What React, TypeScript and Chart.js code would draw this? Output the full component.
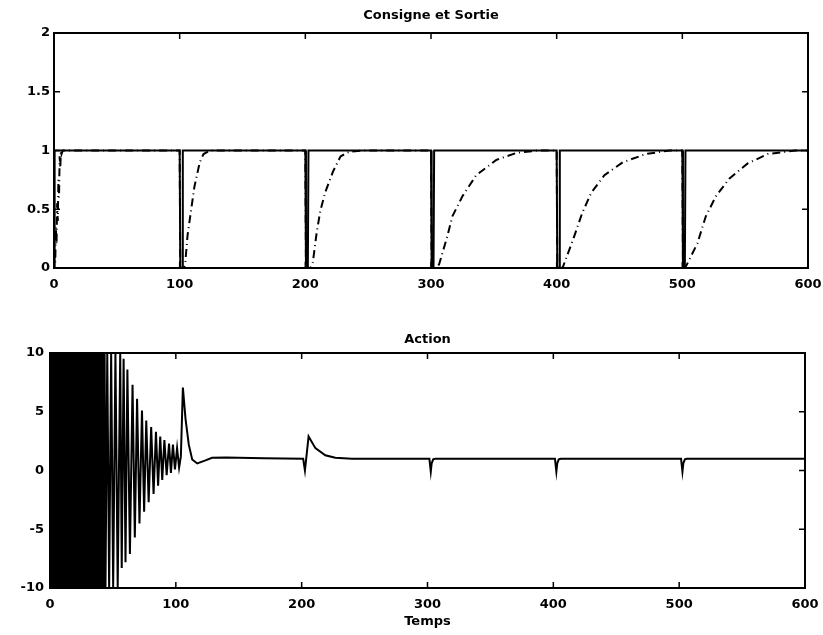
import React, { useEffect, useRef } from "react";
import { Chart, registerables } from "chart.js";

Chart.register(...registerables);

// ---- text ----
const topTitle = "Consigne et Sortie";
const bottomTitle = "Action";
const xAxisTitle = "Temps";

// ---- tick labels ----
const xTicks = [0, 100, 200, 300, 400, 500, 600];
const topYTicks = [0, 0.5, 1, 1.5, 2];
const bottomYTicks = [-10, -5, 0, 5, 10];

// ---- Consigne (setpoint, solid) ----
const setpointT = [0, 0.5, 100, 100.5, 102, 102.5, 200, 200.5, 202, 202.5, 300, 300.5, 302, 302.5, 400, 400.5, 402, 402.5, 500, 500.5, 502, 502.5, 600];
const setpointV = [0, 1, 1, 0, 0, 1, 1, 0, 0, 1, 1, 0, 0, 1, 1, 0, 0, 1, 1, 0, 0, 1, 1];

// ---- Sortie (output, dashed) ----
const outputT = [0, 0.5, 1, 1.5, 2, 2.5, 3, 3.5, 4, 4.5, 5, 5.5, 6, 7, 100, 100.5, 103.5, 104.5, 106.3, 111.7, 116, 119, 124, 200, 200.5, 204, 206, 209, 212, 216, 222, 228, 235, 245, 300, 300.5, 304, 306.4, 313, 317, 325, 336, 352, 368, 385, 400, 400.5, 404, 405, 413, 420.4, 427.5, 438, 452.6, 471, 490, 500, 500.5, 502, 502.7, 512, 518.7, 526.7, 537.3, 552, 568, 590, 600];
const outputV = [0, 0.15, 0.05, 0.35, 0.2, 0.55, 0.4, 0.75, 0.6, 0.95, 0.85, 1, 0.97, 1, 1, 0, 0, 0.05, 0.28, 0.69, 0.9, 0.97, 1, 1, 0, 0, 0.05, 0.3, 0.49, 0.65, 0.82, 0.95, 0.99, 1, 1, 0, 0, 0.03, 0.27, 0.44, 0.61, 0.79, 0.92, 0.98, 1, 1, 0, 0, 0.01, 0.24, 0.47, 0.64, 0.79, 0.9, 0.97, 1, 1, 0, 0, 0.01, 0.21, 0.44, 0.61, 0.76, 0.89, 0.97, 1, 1];

// ---- Action (control signal) ----
const actionT = [
  0.0, 0.7, 1.4, 2.1, 2.8, 3.5, 4.2, 4.9, 5.6, 6.3, 7.0, 7.7, 8.4, 9.1, 9.8, 10.5,
  11.2, 11.9, 12.6, 13.3, 14.0, 14.7, 15.4, 16.1, 16.8, 17.5, 18.2, 18.9, 19.6, 20.3, 21.0, 21.7,
  22.4, 23.1, 23.8, 24.5, 25.2, 25.9, 26.6, 27.3, 28.0, 28.7, 29.4, 30.1, 30.8, 31.5, 32.2, 32.9,
  33.6, 34.3, 35.0, 35.7, 36.4, 37.1, 37.8, 38.5, 39.2, 39.9, 40.6, 41.3, 42.0, 42.7, 43.4, 44.1,
  45.5, 47.0, 48.6, 50.2, 52.0, 53.8, 55.8, 57.0, 58.5, 60.0, 61.5, 63.5, 65.6, 67.4, 69.2, 71.1, 73.1, 74.8, 76.5, 78.4,
  80.4, 82.3, 84.2, 85.9, 87.6, 89.2, 90.9, 92.7, 94.6, 96.1, 97.7, 99.3, 101.0, 102.6, 104.0,
  105.6, 107.7, 110.3, 113.0, 117.0, 123.6, 128.8, 140.0, 170.0,
  201.2, 202.6, 205.5, 210.9, 218.8, 226.7, 240.0,
  301.5, 302.6, 303.3, 304.5, 306.0,
  401.3, 402.4, 403.1, 404.3, 406.0,
  501.5, 502.6, 503.3, 504.5, 506.0,
  600.0,
];
const actionV = [
  10, -10, 10, -10, 10, -10, 10, -10, 10, -10, 10, -10, 10, -10, 10, -10,
  10, -10, 10, -10, 10, -10, 10, -10, 10, -10, 10, -10, 10, -10, 10, -10,
  10, -10, 10, -10, 10, -10, 10, -10, 10, -10, 10, -10, 10, -10, 10, -10,
  10, -10, 10, -10, 10, -10, 10, -10, 10, -10, 10, -10, 10, -10, 10, -10,
  10, -10, 10, -10, 10, -10, 10, -8.3, 9.5, -7.8, 8.6, -7.1, 7.3, -5.7, 6.1, -4.5, 5.1, -3.5, 4.25, -2.7,
  3.7, -2.0, 3.3, -1.3, 2.9, -0.8, 2.6, -0.4, 2.3, -0.2, 2.2, 0.1, 1.9, 0.25, 1.2,
  7.06, 4.4, 2.2, 0.94, 0.6, 0.86, 1.08, 1.1, 1.05,
  1.0, 0.0, 2.9, 1.9, 1.3, 1.08, 1.0,
  1.0, -0.1, 0.6, 0.95, 1.0,
  1.0, -0.1, 0.6, 0.95, 1.0,
  1.0, -0.1, 0.6, 0.95, 1.0,
  1.0,
];

const FONT = "'DejaVu Sans', 'Liberation Sans', sans-serif";
const tickFont = { family: FONT, size: 13, weight: "bold" as const };

function pairs(t: number[], v: number[]) {
  return t.map((x, i) => ({ x, y: v[i] }));
}

function framePlugin(title: string, titleOffset: number, xTitle?: string) {
  return {
    id: "matlabFrame",
    afterDraw(chart: any) {
      const { ctx, chartArea: a, scales } = chart;
      const xs = scales.x;
      const ys = scales.y;
      ctx.save();
      ctx.strokeStyle = "#000";
      ctx.lineWidth = 2;
      ctx.strokeRect(a.left, a.top, a.right - a.left, a.bottom - a.top);
      ctx.lineWidth = 1.5;
      const L = 6;
      ctx.beginPath();
      xs.ticks.forEach((t: any) => {
        const p = xs.getPixelForValue(t.value);
        if (p <= a.left + 1 || p >= a.right - 1) return;
        ctx.moveTo(p, a.bottom);
        ctx.lineTo(p, a.bottom - L);
        ctx.moveTo(p, a.top);
        ctx.lineTo(p, a.top + L);
      });
      ys.ticks.forEach((t: any) => {
        const p = ys.getPixelForValue(t.value);
        if (p <= a.top + 1 || p >= a.bottom - 1) return;
        ctx.moveTo(a.left, p);
        ctx.lineTo(a.left + L, p);
        ctx.moveTo(a.right, p);
        ctx.lineTo(a.right - L, p);
      });
      ctx.stroke();
      ctx.fillStyle = "#000";
      ctx.font = `bold 13px ${FONT}`;
      ctx.textAlign = "center";
      ctx.textBaseline = "middle";
      const cx = (a.left + a.right) / 2;
      ctx.fillText(title, cx, a.top - titleOffset);
      if (xTitle) ctx.fillText(xTitle, cx, a.bottom + 34);
      ctx.restore();
    },
  };
}

function makeConfig(opts: {
  datasets: any[];
  yMin: number;
  yMax: number;
  yTicks: number[];
  left: number;
  right: number;
  top: number;
  xHeight: number;
  yPad: number;
  plugin: any;
}) {
  return {
    type: "line" as const,
    data: { datasets: opts.datasets },
    options: {
      responsive: false,
      maintainAspectRatio: false,
      animation: false as const,
      layout: { padding: { left: 0, right: opts.right, top: opts.top, bottom: 0 } },
      plugins: {
        legend: { display: false },
        tooltip: { enabled: false },
        title: { display: false },
      },
      elements: { point: { radius: 0 }, line: { tension: 0 } },
      scales: {
        x: {
          type: "linear" as const,
          min: 0,
          max: 600,
          grid: { display: false, drawTicks: false },
          border: { display: false },
          afterBuildTicks: (s: any) => {
            s.ticks = xTicks.map((v) => ({ value: v }));
          },
          afterFit: (s: any) => {
            s.height = opts.xHeight;
            s.paddingLeft = 0;
            s.paddingRight = 0;
          },
          ticks: {
            padding: 9,
            color: "#000",
            font: tickFont,
            maxRotation: 0,
            autoSkip: false,
            callback: (v: any) => String(v),
          },
        },
        y: {
          type: "linear" as const,
          min: opts.yMin,
          max: opts.yMax,
          grid: { display: false, drawTicks: false },
          border: { display: false },
          afterBuildTicks: (s: any) => {
            s.ticks = opts.yTicks.map((v) => ({ value: v }));
          },
          afterFit: (s: any) => {
            s.width = opts.left;
            s.paddingTop = 0;
            s.paddingBottom = 0;
          },
          ticks: {
            padding: opts.yPad,
            color: "#000",
            font: tickFont,
            autoSkip: false,
            callback: (v: any) => String(v),
          },
        },
      },
    },
    plugins: [opts.plugin],
  };
}

export default function App() {
  const topRef = useRef<HTMLCanvasElement | null>(null);
  const botRef = useRef<HTMLCanvasElement | null>(null);

  useEffect(() => {
    if (!topRef.current || !botRef.current) return;
    const top = new Chart(
      topRef.current,
      makeConfig({
        datasets: [
          {
            data: pairs(setpointT, setpointV),
            borderColor: "#000",
            borderWidth: 2,
            fill: false,
          },
          {
            data: pairs(outputT, outputV),
            borderColor: "#000",
            borderWidth: 2,
            borderDash: [8, 4, 1, 4],
            fill: false,
          },
        ],
        yMin: 0,
        yMax: 2,
        yTicks: topYTicks,
        left: 54,
        right: 15,
        top: 33,
        xHeight: 32,
        yPad: 4,
        plugin: framePlugin(topTitle, 17),
      }) as any
    );
    const bottom = new Chart(
      botRef.current,
      makeConfig({
        datasets: [
          {
            data: pairs(actionT, actionV),
            borderColor: "#000",
            borderWidth: 2,
            fill: false,
          },
        ],
        yMin: -10,
        yMax: 10,
        yTicks: bottomYTicks,
        left: 50,
        right: 18,
        top: 53,
        xHeight: 47,
        yPad: 6,
        plugin: framePlugin(bottomTitle, 13, xAxisTitle),
      }) as any
    );
    return () => {
      top.destroy();
      bottom.destroy();
    };
  }, []);

  return (
    <div style={{ position: "absolute", left: 0, top: 0, width: 823, height: 635, background: "#fff" }}>
      <canvas ref={topRef} width={823} height={300} style={{ position: "absolute", left: 0, top: 0 }} />
      <canvas ref={botRef} width={823} height={335} style={{ position: "absolute", left: 0, top: 300 }} />
    </div>
  );
}
